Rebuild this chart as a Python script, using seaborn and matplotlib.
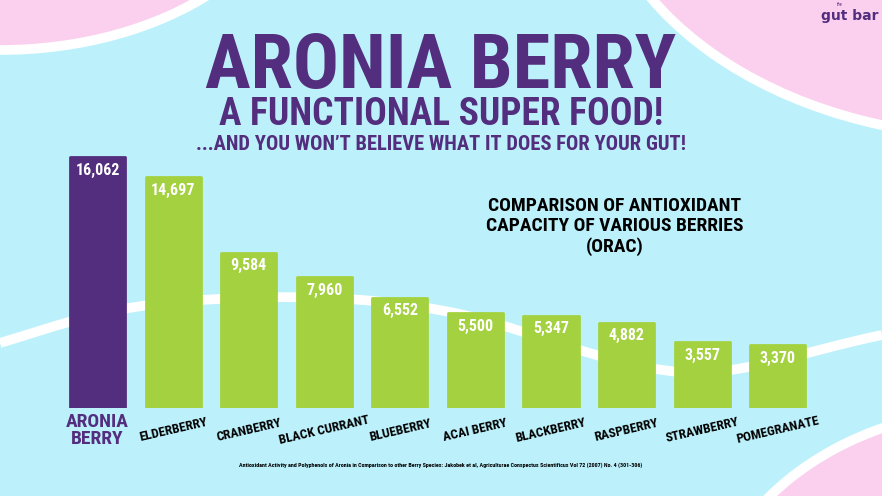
import matplotlib
matplotlib.use('Agg')
import matplotlib.pyplot as plt
import seaborn as sns
import pandas as pd
from matplotlib import font_manager
from matplotlib.patches import Ellipse, PathPatch
from matplotlib.path import Path

berries = ['ARONIA\nBERRY', 'ELDERBERRY', 'CRANBERRY', 'BLACK CURRANT', 'BLUEBERRY',
           'ACAI BERRY', 'BLACKBERRY', 'RASPBERRY', 'STRAWBERRY', 'POMEGRANATE']
orac = [16062, 14697, 9584, 7960, 6552, 5500, 5347, 4882, 3557, 3370]

PURPLE = '#532d7e'
GREEN = '#a4d13f'
CYAN = '#bcf1fb'
PINK = '#fbd0ee'

# pick a narrow bold family if we have one
names = {f.name for f in font_manager.fontManager.ttflist}
cond = next(n for n in ['Liberation Sans Narrow', 'Roboto Condensed', 'DejaVu Sans'] if n in names)

sns.set_theme(style='white')
plt.rcParams['font.family'] = [cond, 'DejaVu Sans']

fig = plt.figure(figsize=(8.82, 4.96), dpi=100)
fig.patch.set_facecolor(CYAN)

# background blobs, in pixel coords
bg = fig.add_axes([0, 0, 1, 1], zorder=0)
bg.set_xlim(0, 882)
bg.set_ylim(496, 0)
bg.axis('off')
bg.add_patch(Ellipse((0, -150), 604, 400, fc=PINK, ec='white', lw=7))
bg.add_patch(Ellipse((1000, -150), 814, 575, fc=PINK, ec='white', lw=7))
bg.add_patch(Ellipse((1000, 650), 597, 483, fc=PINK, ec='white', lw=7))
verts = [(0, 343), (60, 325), (110, 305), (200, 300),
         (290, 295), (360, 295), (450, 312),
         (530, 328), (600, 365), (680, 372),
         (740, 377), (800, 352), (882, 335)]
codes = [Path.MOVETO] + [Path.CURVE4] * 12
bg.add_patch(PathPatch(Path(verts, codes), fill=False, ec='white', lw=7))

ax = fig.add_axes([0.0677, 0.1774, 0.857, 0.5202], zorder=1)
ax.set_facecolor('none')

df = pd.DataFrame({'berry': berries, 'orac': orac})
sns.barplot(data=df, x='berry', y='orac', hue='berry', palette=[PURPLE] + [GREEN] * 9,
            legend=False, width=0.73, saturation=1, ax=ax)

base = -885
for p, v in zip(ax.patches, orac):
    p.set_y(base)
    p.set_height(v - base)
    p.set_edgecolor(p.get_facecolor())
    p.set_linewidth(2)
    p.set_joinstyle('round')

for i, v in enumerate(orac):
    ax.text(i, v - 880, f'{v:,}', ha='center', va='center', color='white',
            fontsize=11.5, fontweight='bold')

ax.set_xlim(-0.5, 9.5)
ax.set_ylim(base, 16536)
ax.set_yticks([])
ax.set_xlabel('')
ax.set_ylabel('')
sns.despine(ax=ax, left=True, bottom=True)
ax.tick_params(axis='x', length=0, pad=16)
for i, lbl in enumerate(ax.get_xticklabels()):
    lbl.set_rotation_mode('anchor')
    lbl.set_va('center')
    lbl.set_ha('center')
    lbl.set_fontweight('bold')
    if i == 0:
        lbl.set_color(PURPLE)
        lbl.set_fontsize(14)
        lbl.set_linespacing(0.95)
    else:
        lbl.set_rotation(13)
        lbl.set_color('black')
        lbl.set_fontsize(9.5)

fig.text(0.5, 0.8226, 'ARONIA BERRY', ha='center', va='baseline', color=PURPLE,
         fontsize=55, fontweight='bold')
fig.text(0.5, 0.748, 'A FUNCTIONAL SUPER FOOD!', ha='center', va='baseline', color=PURPLE,
         fontsize=27, fontweight='bold')
fig.text(0.5, 0.6976, '...AND YOU WON\u2019T BELIEVE WHAT IT DOES FOR YOUR GUT!', ha='center',
         va='baseline', color=PURPLE, fontsize=14.8, fontweight='bold')

fig.text(0.697, 0.544, 'COMPARISON OF ANTIOXIDANT\nCAPACITY OF VARIOUS BERRIES\n(ORAC)',
         ha='center', va='center', color='black', fontsize=14, fontweight='bold',
         linespacing=1.15, multialignment='center')

fig.text(0.5, 0.0625, 'Antioxidant Activity and Polyphenols of Aronia in Comparison to other Berry '
         'Species: Jakobek et al, Agriculturae Conspectus Scientificus Vol 72 (2007) No. 4 (301-306)',
         ha='center', va='center', color='black', fontsize=4.35, fontweight='bold')

fig.text(0.964, 0.968, 'gut bar', ha='center', va='center', color=PURPLE, fontsize=10,
         family='DejaVu Sans', fontweight='bold')
fig.text(0.952, 0.99, 'the', ha='center', va='center', color=PURPLE, fontsize=3.5,
         style='italic')

fig.savefig('out.png', dpi=100, facecolor=fig.get_facecolor())
